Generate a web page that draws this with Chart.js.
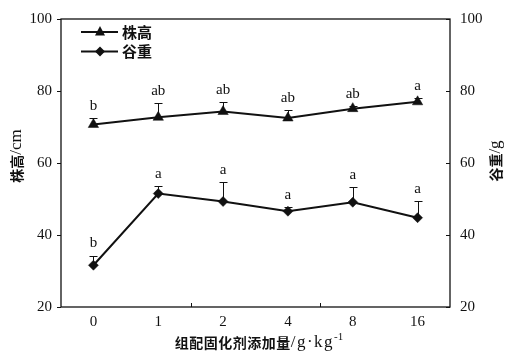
<!DOCTYPE html>
<html><head><meta charset="utf-8">
<script src="https://cdn.jsdelivr.net/npm/chart.js@4.4.0/dist/chart.umd.min.js"></script>
<style>html,body{margin:0;padding:0;background:#fff;}#wrap{width:509px;height:356px;position:relative;}</style>
</head><body><div id="wrap"><canvas id="c" width="509" height="356"></canvas></div>
<script>
const categories = ['0','1','2','4','8','16'];
const heightMean = [70.7, 72.7, 74.3, 72.5, 75.1, 77.0];
const heightErr = [1.8, 3.9, 2.6, 2.3, 0.8, 1.0];
const heightLetters = ['b','ab','ab','ab','ab','a'];
const weightMean = [31.6, 51.5, 49.3, 46.6, 49.1, 44.8];
const weightErr = [2.7, 2.0, 5.4, 1.2, 4.1, 4.6];
const weightLetters = ['b','a','a','a','a','a'];
const yTicks = [20, 40, 60, 80, 100];
const seriesNames = ['株高', '谷重'];
const axisTitleLeft = ['株高', '/cm'];
const axisTitleRight = ['谷重', '/g'];
const axisTitleX = ['组配固化剂添加量', '/g·kg', '-1'];

const SERIF = '"Liberation Serif", "DejaVu Serif", serif';
const CJK = '"Noto Sans CJK SC", sans-serif';
const INK = '#111';

function drawRuns(ctx, runs, cx, cy) {
  let total = 0;
  runs.forEach(r => {
    ctx.font = r.font; ctx.letterSpacing = r.ls || '0px';
    r.w = ctx.measureText(r.text).width; total += r.w;
  });
  let x = cx - total / 2;
  ctx.textBaseline = 'middle';
  ctx.textAlign = 'left';
  runs.forEach(r => {
    ctx.font = r.font; ctx.letterSpacing = r.ls || '0px';
    ctx.fillText(r.text, x, cy + (r.dy || 0)); x += r.w;
  });
  ctx.letterSpacing = '0px';
}

function marker(ctx, style, x, y) {
  ctx.beginPath();
  if (style === 'triangle') {
    ctx.moveTo(x, y - 6); ctx.lineTo(x + 5, y + 3.5); ctx.lineTo(x - 5, y + 3.5);
  } else {
    ctx.moveTo(x, y - 5); ctx.lineTo(x + 5, y); ctx.lineTo(x, y + 5); ctx.lineTo(x - 5, y);
  }
  ctx.closePath(); ctx.fill();
}

const decor = {
  id: 'decor',
  beforeDatasetsDraw(chart) {
    const ctx = chart.ctx, ys = chart.scales.y;
    ctx.save();
    ctx.strokeStyle = INK; ctx.lineWidth = 1;
    [[heightMean, heightErr, 0], [weightMean, weightErr, 1]].forEach(([m, e, di]) => {
      const meta = chart.getDatasetMeta(di);
      m.forEach((v, i) => {
        const x = Math.round(meta.data[i].x) + 0.5;
        const y0 = ys.getPixelForValue(v), y1 = Math.round(ys.getPixelForValue(v + e[i])) + 0.5;
        ctx.beginPath(); ctx.moveTo(x, y0); ctx.lineTo(x, y1);
        ctx.moveTo(x - 4, y1); ctx.lineTo(x + 4, y1); ctx.stroke();
      });
    });
    ctx.restore();
  },
  afterDraw(chart) {
    const ctx = chart.ctx, a = chart.chartArea, ys = chart.scales.y, xs = chart.scales.x;
    ctx.save();
    ctx.strokeStyle = INK; ctx.lineWidth = 1.3;
    ctx.strokeRect(a.left, a.top, a.right - a.left, a.bottom - a.top);
    ctx.lineWidth = 1;
    yTicks.forEach(v => {
      const y = Math.round(ys.getPixelForValue(v)) + 0.5;
      ctx.beginPath(); ctx.moveTo(a.right - 4, y); ctx.lineTo(a.right, y); ctx.stroke();
    });
    [1.5, 3.5].forEach(p => {
      const x = Math.round(xs.getPixelForValue(p)) + 0.5;
      ctx.beginPath(); ctx.moveTo(x, a.bottom); ctx.lineTo(x, a.bottom - 4); ctx.stroke();
    });
    ctx.fillStyle = INK; ctx.font = '15px ' + SERIF; ctx.textAlign = 'center'; ctx.textBaseline = 'middle';
    [[heightMean, heightErr, heightLetters, 0], [weightMean, weightErr, weightLetters, 1]].forEach(([m, e, L, di]) => {
      const meta = chart.getDatasetMeta(di);
      m.forEach((v, i) => {
        ctx.fillText(L[i], meta.data[i].x, ys.getPixelForValue(v + e[i]) - 12);
      });
    });
    const styles = ['triangle', 'diamond'];
    seriesNames.forEach((n, i) => {
      const y = 32 + i * 19.5;
      ctx.strokeStyle = INK; ctx.lineWidth = 2;
      ctx.beginPath(); ctx.moveTo(81, y); ctx.lineTo(118, y); ctx.stroke();
      marker(ctx, styles[i], 100, y);
      ctx.font = 'bold 15px ' + CJK; ctx.textAlign = 'left'; ctx.textBaseline = 'middle';
      ctx.fillText(n, 122, y);
    });
    const cjk = 'bold 14px ' + CJK, ser = '17px ' + SERIF;
    ctx.save(); ctx.translate(17, 156); ctx.rotate(-Math.PI / 2);
    drawRuns(ctx, [{text: axisTitleLeft[0], font: cjk}, {text: axisTitleLeft[1], font: ser}], 0, 0);
    ctx.restore();
    ctx.save(); ctx.translate(496, 161); ctx.rotate(-Math.PI / 2);
    drawRuns(ctx, [{text: axisTitleRight[0], font: cjk}, {text: axisTitleRight[1], font: ser}], 0, 0);
    ctx.restore();
    drawRuns(ctx, [{text: axisTitleX[0], font: cjk, ls: '0.5px'}, {text: axisTitleX[1], font: ser, ls: '1.5px'},
                   {text: axisTitleX[2], font: '11px ' + SERIF, dy: -6}], 259, 343);
    ctx.restore();
  }
};

const tickFont = {family: SERIF, size: 15};
new Chart(document.getElementById('c'), {
  type: 'line',
  data: {
    labels: categories,
    datasets: [
      {label: seriesNames[0], data: heightMean, yAxisID: 'y', borderColor: INK, backgroundColor: INK, borderWidth: 2,
       pointStyle: 'triangle', pointRadius: 6, pointBorderWidth: 0.5, tension: 0},
      {label: seriesNames[1], data: weightMean, yAxisID: 'y', borderColor: INK, backgroundColor: INK, borderWidth: 2,
       pointStyle: 'rectRot', pointRadius: 5, pointBorderWidth: 0.5, tension: 0}
    ]
  },
  options: {
    responsive: false, animation: false, devicePixelRatio: 1,
    layout: {padding: {top: 13, left: 0, right: 0, bottom: 0}},
    plugins: {legend: {display: false}, tooltip: {enabled: false}},
    scales: {
      x: {type: 'category', offset: true,
          grid: {display: false, drawTicks: false}, border: {display: false},
          ticks: {font: tickFont, color: INK, padding: 6},
          afterFit: s => { s.height = 49; }},
      y: {position: 'left', min: 20, max: 100,
          afterBuildTicks: s => { s.ticks = yTicks.map(v => ({value: v})); },
          grid: {drawOnChartArea: false, tickLength: 4, color: INK}, border: {display: false},
          ticks: {font: tickFont, color: INK, padding: 5},
          afterFit: s => { s.width = 61; }},
      y1: {position: 'right', min: 20, max: 100,
          afterBuildTicks: s => { s.ticks = yTicks.map(v => ({value: v})); },
          grid: {display: false, drawTicks: false}, border: {display: false},
          ticks: {font: tickFont, color: INK, padding: 10},
          afterFit: s => { s.width = 59; }}
    }
  },
  plugins: [decor]
});
</script>
</body></html>
